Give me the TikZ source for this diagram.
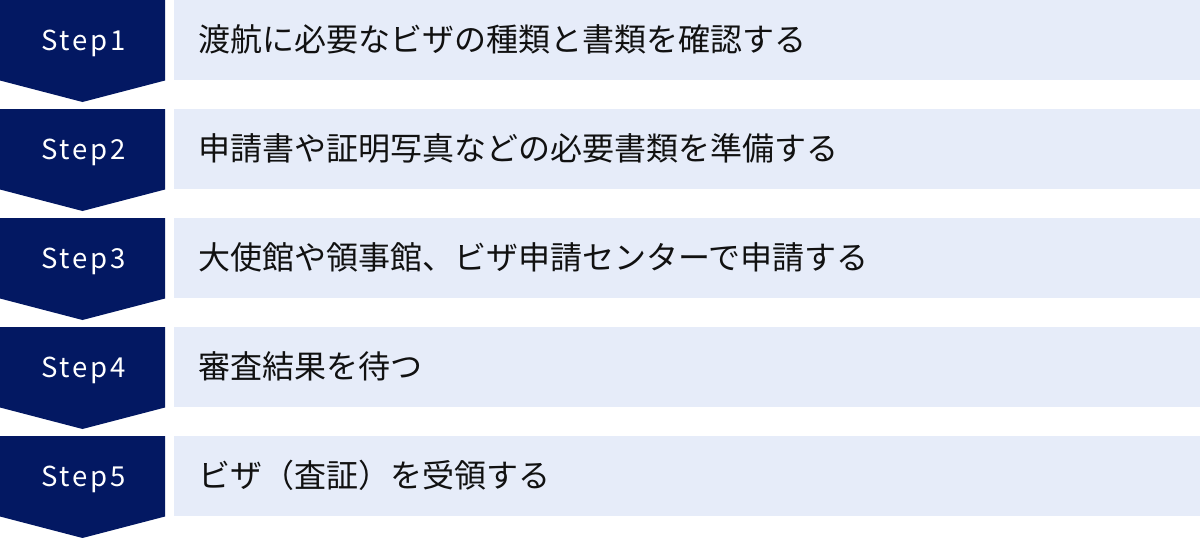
\documentclass[tikz,border=0pt]{standalone}
\usepackage{fontspec}
\setmainfont{Noto Sans CJK JP}
\newfontfamily\steplabelfont[LetterSpace=10]{Noto Sans CJK JP}
\definecolor{navy}{HTML}{031862}
\definecolor{lightbg}{HTML}{E6ECF9}
\definecolor{txt}{HTML}{111111}
\tikzset{
  stepfill/.style={fill=navy},
  rowfill/.style={fill=lightbg},
  steplabel/.style={anchor=base, inner sep=0pt, text=white, font=\steplabelfont\fontsize{27.5}{32}\selectfont},
  rowtext/.style={anchor=base west, inner sep=0pt, text=txt, font=\fontsize{32}{36}\selectfont}
}
\begin{document}
\begin{tikzpicture}[x=1pt,y=-1pt]
\useasboundingbox (0,0) rectangle (1200,538);
\foreach \t/\n/\lab in {0/1/渡航に必要なビザの種類と書類を確認する,109/2/申請書や証明写真などの必要書類を準備する,218/3/大使館や領事館、ビザ申請センターで申請する,327/4/審査結果を待つ,436/5/ビザ（査証）を受領する}{
  \fill[stepfill] (0,\t) -- (165,\t) -- (165,\t+80.5) -- (82.5,\t+102) -- (0,\t+80.5) -- cycle;
  \fill[rowfill] (174,\t) rectangle (1200,\t+80);
  \node[steplabel] (step\n) at (83.5,\t+50.5) {Step\n};
  \node[rowtext] (text\n) at (198.5,\t+51.5) {\lab};
}
\end{tikzpicture}
\end{document}
